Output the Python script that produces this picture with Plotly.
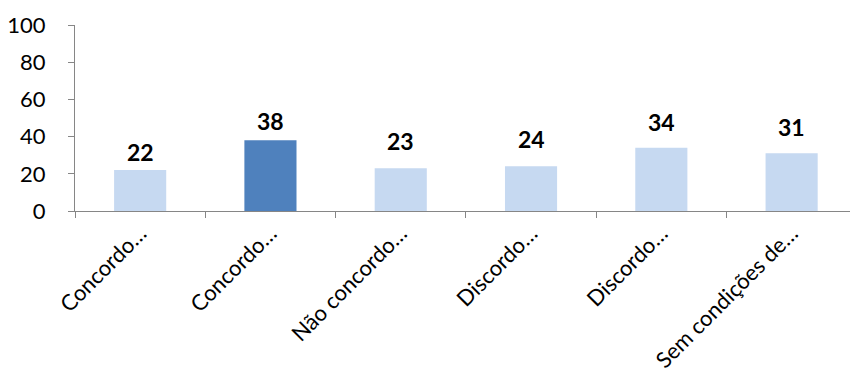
import plotly.graph_objects as go

categories = ["Concordo totalmente", "Concordo parcialmente", "Não concordo nem discordo",
              "Discordo parcialmente", "Discordo totalmente", "Sem condições de opinar"]
tick_labels = ["Concordo…", "Concordo…", "Não concordo…", "Discordo…", "Discordo…", "Sem condições de…"]
values = [22, 38, 23, 24, 34, 31]
y_ticks = [0, 20, 40, 60, 80, 100]

light = "#C6D9F1"
dark = "#4F81BD"
colors = [dark if i == 1 else light for i in range(len(values))]
label_shift = [18, 19, 27, 27, 26, 26]

FONT = "Lato"

fig = go.Figure()
fig.add_trace(go.Bar(
    x=categories, y=values, marker=dict(color=colors, line=dict(width=0)),
    width=0.4, hoverinfo="skip",
))
for c, v, s in zip(categories, values, label_shift):
    fig.add_annotation(x=c, y=v, text=f"<b>{v}</b>", showarrow=False,
                       yshift=s, yanchor="middle",
                       font=dict(family=FONT, size=23, color="black"))

fig.update_layout(
    width=850, height=380,
    margin=dict(l=75, r=0, t=25, b=169),
    paper_bgcolor="white", plot_bgcolor="white",
    showlegend=False,
    font=dict(family=FONT, size=22, color="black"),
)
fig.update_xaxes(
    type="category", range=[-0.5, 5.448],
    tickmode="array", tickvals=categories, ticktext=tick_labels,
    tickangle=-45, tickson="boundaries",
    ticks="outside", ticklen=6, tickcolor="#868686",
    showline=True, linecolor="#868686", linewidth=1,
    showgrid=False, zeroline=False,
    tickfont=dict(family=FONT, size=22, color="black"),
)
fig.update_yaxes(
    range=[0, 100], tickvals=y_ticks,
    ticks="outside", ticklen=6, tickcolor="#868686",
    showline=True, linecolor="#868686", linewidth=1,
    showgrid=False, zeroline=False,
    tickfont=dict(family=FONT, size=22, color="black"),
    ticklabelstandoff=18,
)
fig.write_html("out.html")
